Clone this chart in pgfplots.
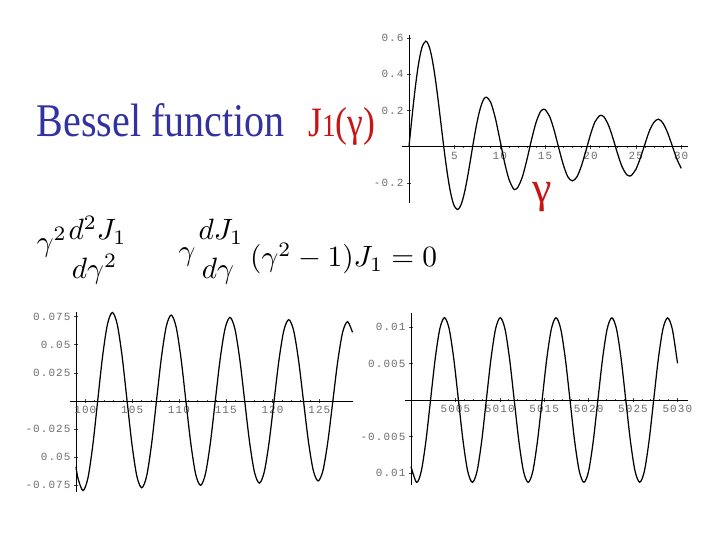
\documentclass[border=0pt]{standalone}
\usepackage{pgfplots}
\pgfplotsset{compat=1.18}
\usepackage{graphicx}
\usepackage{fontspec}
\setmainfont{Liberation Serif}
\newfontfamily\tickfont{Liberation Mono}[LetterSpace=10]
\definecolor{titleblue}{RGB}{51,51,160}
\definecolor{jred}{RGB}{200,20,20}
\definecolor{ticklab}{RGB}{110,110,110}
\newcommand\eq[1]{\scalebox{2.95}{$#1$}}
\pgfplotsset{mstyle/.style={
  scale only axis, clip=false, scaled ticks=false,
  tick style={black!75, line width=0.45bp},
  major tick length=4bp, minor tick length=2bp,
  tick align=inside,
  tick label style={font=\tickfont\fontsize{11}{12}\selectfont, text=ticklab},
 },
 noarr/.style={
  axis line style={-, line width=0.6bp, black},
  every inner x axis line/.append style={-},
  every inner y axis line/.append style={-},
  every outer x axis line/.append style={-},
  every outer y axis line/.append style={-},
 },
 crv/.style={black, line width=1.25bp, smooth, no marks},
}
\begin{document}
\begin{tikzpicture}
\fill[white] (0,0) rectangle (720bp,540bp);
\path[use as bounding box] (0,0) rectangle (720bp,540bp);

% title
\node[anchor=base west, inner sep=0, text=titleblue] at (36.7bp,403.3bp)
  {\scalebox{0.855}[1]{\fontsize{47}{50}\selectfont Bessel function}};
\node[anchor=base west, inner sep=0, text=jred] at (308bp,403.3bp)
  {\scalebox{0.85}[1]{\fontsize{42}{44}\selectfont J{\fontsize{32}{34}\selectfont 1}(γ)}};
\node[text=jred, inner sep=0] at (542.5bp,342.5bp) {\fontsize{44}{46}\selectfont γ};

% equation (as shown: bars and plus signs not visible)
\node[anchor=base west, inner sep=0] at (36.7bp,288.4bp) {\eq{\gamma^2}};
\node[anchor=base west, inner sep=0] at (68.3bp,300bp) {\eq{d^2J_1}};
\node[anchor=base west, inner sep=0] at (71.7bp,261.7bp) {\eq{d\gamma^2}};
\node[anchor=base west, inner sep=0] at (178.3bp,279bp) {\eq{\gamma}};
\node[anchor=base west, inner sep=0] at (198.3bp,300bp) {\eq{dJ_1}};
\node[anchor=base west, inner sep=0] at (201.7bp,261.7bp) {\eq{d\gamma}};
\node[anchor=base west, inner sep=0] at (250bp,273bp) {\eq{(\gamma^2-1)J_1=0}};

% top plot: J1 on 0..30
\begin{axis}[mstyle, at={(402bp,337bp)}, anchor=south west,
  width=286bp, height=168bp,
  xmin=-0.77, xmax=30.75, ymin=-0.31, ymax=0.616,
  axis lines=middle, noarr,
  xtick={5,10,15,20,25,30}, xticklabels={5,10,15,20,25,30},
  ytick={-0.2,0.2,0.4,0.6}, yticklabels={-0.2,0.2,0.4,0.6},
  minor x tick num=4, minor y tick num=3]
\addplot[crv] coordinates {
(0,0) (0.25,0.1240) (0.5,0.2423) (0.75,0.3492) (1,0.4401) (1.25,0.5106)
(1.5,0.5579) (1.841,0.5819) (2,0.5767) (2.25,0.5484) (2.5,0.4971) (2.75,0.4260)
(3,0.3391) (3.25,0.2411) (3.5,0.1374) (3.832,0) (4,-0.0660) (4.25,-0.1555)
(4.5,-0.2311) (4.75,-0.2892) (5,-0.3276) (5.331,-0.3461) (5.5,-0.3414) (5.75,-0.3179)
(6,-0.2767) (6.25,-0.2207) (6.5,-0.1538) (6.75,-0.0803) (7,-0.0047) (7.25,0.0685)
(7.5,0.1352) (7.75,0.1915) (8,0.2346) (8.25,0.2630) (8.536,0.2733) (9,0.2453)
(9.5,0.1613) (10,0.0435) (10.5,-0.0789) (11,-0.1768) (11.5,-0.2310) (11.706,-0.2346)
(12,-0.2234) (12.5,-0.1655) (13,-0.0703) (13.5,0.0380) (14,0.1334) (14.5,0.1950)
(14.864,0.2065) (15,0.2051) (15.5,0.1670) (16,0.0904) (16.5,-0.0059) (17,-0.0977)
(17.5,-0.1650) (18,-0.1880) (18.5,-0.1665) (19,-0.1057) (19.5,-0.0215) (20,0.0668)
(20.5,0.1377) (21,0.1711) (21.164,0.1733) (21.5,0.1638) (22,0.1172) (22.5,0.0436)
(23,-0.0399) (23.5,-0.1121) (24,-0.1543) (24.311,-0.1617) (24.5,-0.1584) (25,-0.1254)
(25.5,-0.0620) (26,0.0146) (26.5,0.0879) (27,0.1351) (27.5,0.1521) (28,0.1295)
(28.5,0.0775) (29,0.0069) (29.5,-0.0649) (30,-0.1188)
};
\end{axis}

% bottom left: J1 on 99..128.5
\begin{axis}[mstyle, at={(76bp,48.3bp)}, anchor=south west,
  width=277bp, height=180bp,
  xmin=99, xmax=128.6, ymin=-0.081, ymax=0.0794,
  axis x line=middle, axis y line=left, noarr,
  x axis line style={shorten <=-6bp},
  xtick={100,105,110,115,120,125}, xticklabels={100,105,110,115,120,125},
  ytick={-0.075,-0.05,-0.025,0.025,0.05,0.075},
  yticklabels={-0.075,0.05,-0.025,0.025,0.05,0.075},
  minor x tick num=4, minor y tick num=4]
\addplot[crv] coordinates {
(99.0,-0.0589) (99.222,-0.0694) (99.746,-0.0800) (100.270,-0.0690) (100.793,-0.0398)
(101.317,0) (101.840,0.0396) (102.364,0.0683) (102.887,0.0787) (103.411,0.0680)
(103.935,0.0392) (104.458,0) (104.982,-0.0389) (105.505,-0.0673) (106.029,-0.0775)
(106.553,-0.0669) (107.076,-0.0386) (107.600,0) (108.123,0.0384) (108.647,0.0663)
(109.170,0.0764) (109.694,0.0660) (110.218,0.0380) (110.741,0) (111.265,-0.0378)
(111.788,-0.0654) (112.312,-0.0753) (112.836,-0.0650) (113.359,-0.0375) (113.883,0)
(114.406,0.0373) (114.930,0.0644) (115.453,0.0743) (115.977,0.0642) (116.501,0.0370)
(117.024,0) (117.548,-0.0368) (118.071,-0.0636) (118.595,-0.0733) (119.119,-0.0633)
(119.642,-0.0365) (120.166,0) (120.689,0.0363) (121.213,0.0628) (121.736,0.0723)
(122.260,0.0625) (122.784,0.0360) (123.307,0) (123.831,-0.0359) (124.354,-0.0620)
(124.878,-0.0714) (125.402,-0.0617) (125.925,-0.0356) (126.449,0) (126.972,0.0354)
(127.496,0.0612) (128.019,0.0705) (128.543,0.0610)
};
\end{axis}

% bottom right: J1 on 5000..5030
\begin{axis}[mstyle, at={(411bp,55bp)}, anchor=south west,
  width=277bp, height=171.7bp,
  xmin=5000, xmax=5031.2, ymin=-0.01164, ymax=0.01188,
  axis x line=middle, axis y line=left, noarr,
  x axis line style={shorten <=-6bp},
  xtick={5005,5010,5015,5020,5025,5030},
  xticklabels={5005,5010,5015,5020,5025,5030},
  ytick={-0.01,-0.005,0.005,0.01},
  yticklabels={0.01,-0.005,0.005,0.01},
  minor x tick num=4, minor y tick num=4]
\addplot[crv] coordinates {
(5000.000,-0.00912) (5000.630,-0.01128) (5001.154,-0.00977) (5001.677,-0.00564)
(5002.201,0) (5002.724,0.00564) (5003.248,0.00977) (5003.772,0.01128)
(5004.295,0.00977) (5004.819,0.00564) (5005.342,0) (5005.866,-0.00564)
(5006.390,-0.00977) (5006.913,-0.01128) (5007.437,-0.00977) (5007.960,-0.00564)
(5008.484,0) (5009.008,0.00564) (5009.531,0.00977) (5010.055,0.01128)
(5010.578,0.00977) (5011.102,0.00564) (5011.626,0) (5012.149,-0.00564)
(5012.673,-0.00977) (5013.196,-0.01128) (5013.720,-0.00977) (5014.243,-0.00564)
(5014.767,0) (5015.291,0.00564) (5015.814,0.00977) (5016.338,0.01127)
(5016.861,0.00976) (5017.385,0.00564) (5017.909,0) (5018.432,-0.00564)
(5018.956,-0.00976) (5019.479,-0.01127) (5020.003,-0.00976) (5020.527,-0.00563)
(5021.050,0) (5021.574,0.00563) (5022.097,0.00975) (5022.621,0.01126)
(5023.145,0.00975) (5023.668,0.00563) (5024.192,0) (5024.715,-0.00563)
(5025.239,-0.00975) (5025.762,-0.01126) (5026.286,-0.00975) (5026.810,-0.00563)
(5027.333,0) (5027.857,0.00563) (5028.380,0.00975) (5028.904,0.01125)
(5029.428,0.00974) (5029.951,0.00562) (5030.000,0.00515)
};
\end{axis}
\end{tikzpicture}
\end{document}
